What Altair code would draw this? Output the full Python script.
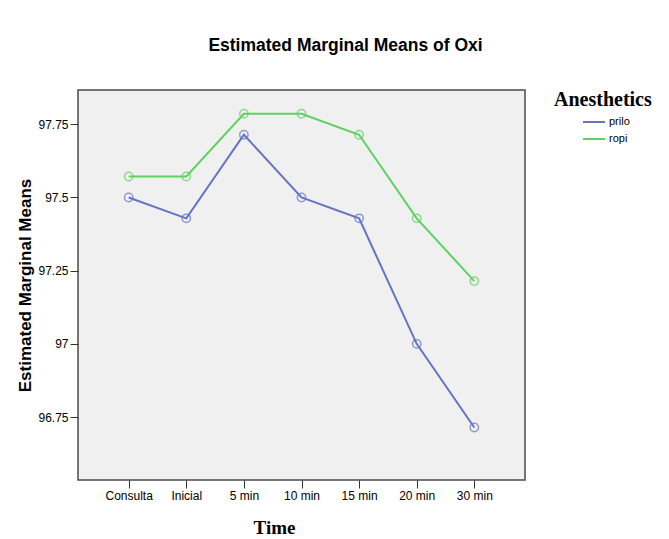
import altair as alt
import pandas as pd

times = ["Consulta", "Inicial", "5 min", "10 min", "15 min", "20 min", "30 min"]
prilo = [97.5, 97.4286, 97.7143, 97.5, 97.4286, 97.0, 96.7143]
ropi = [97.5714, 97.5714, 97.7857, 97.7857, 97.7143, 97.4286, 97.2143]
groups = ["prilo", "ropi"]
y_ticks = [96.75, 97.0, 97.25, 97.5, 97.75]
palette = ["#6474c2", "#5fd160"]

rows = []
for g, vals in zip(groups, [prilo, ropi]):
    for t, v in zip(times, vals):
        rows.append({"Time": t, "Mean": v, "Anesthetics": g})
df = pd.DataFrame(rows)

color = alt.Color(
    "Anesthetics:N",
    scale=alt.Scale(domain=groups, range=palette),
    legend=alt.Legend(
        title="Anesthetics",
        orient="none",
        legendX=476,
        legendY=0,
        symbolType="stroke",
        symbolSize=484,
        symbolStrokeWidth=2,
        symbolOffset=28,
        titleFont="Liberation Serif",
        titleFontSize=20,
        titleFontWeight="bold",
        titleColor="#000000",
        titlePadding=0,
        labelFont="Liberation Sans",
        labelFontSize=11,
        labelColor="#000000",
        labelOffset=3,
        rowPadding=-5,
    ),
)

x = alt.X(
    "Time:N",
    sort=times,
    scale=alt.Scale(type="point", padding=0.88),
    axis=alt.Axis(
        title="Time",
        titleFont="Liberation Serif",
        titleFontSize=19,
        titleFontWeight="bold",
        titleColor="#000000",
        titleX=196,
        titleY=53,
        titleBaseline="alphabetic",
        labelAngle=0,
        labelFont="Liberation Sans",
        labelFontSize=12,
        labelColor="#000000",
        labelPadding=2,
        tickSize=8,
        tickColor="#333333",
        domain=False,
        grid=False,
    ),
)

y = alt.Y(
    "Mean:Q",
    scale=alt.Scale(domain=[96.535, 97.867], nice=False, zero=False),
    axis=alt.Axis(
        title="Estimated Marginal Means",
        values=y_ticks,
        labelExpr="format(datum.value, '.4~f')",
        titleFont="Liberation Sans",
        titleFontSize=17,
        titleFontWeight="bold",
        titleColor="#000000",
        titleAngle=-90,
        titleX=-48,
        titleY=195,
        titleAlign="center",
        titleBaseline="alphabetic",
        labelFont="Liberation Sans",
        labelFontSize=12,
        labelColor="#000000",
        labelPadding=2,
        tickSize=8,
        tickColor="#333333",
        domain=False,
        grid=False,
    ),
)

base = alt.Chart(df)
lines = base.mark_line(strokeWidth=2).encode(x=x, y=y, color=color)
points = base.mark_point(filled=False, size=70, strokeWidth=1.5).encode(
    x=x, y=y, color=alt.Color("Anesthetics:N", scale=alt.Scale(domain=groups, range=palette), legend=None)
)

chart = (
    alt.layer(lines, points)
    .properties(
        width=447,
        height=390,
        autosize=alt.AutoSizeParams(type="none"),
        padding={"left": 70, "top": 82, "right": 136, "bottom": 58},
        background="#ffffff",
        title=alt.Title(
            "Estimated Marginal Means of Oxi",
            font="Liberation Sans",
            fontSize=17.5,
            fontWeight="bold",
            color="#000000",
            anchor="middle",
            dx=44,
            offset=22,
            baseline="alphabetic",
        ),
    )
    .configure_view(fill="#f0f0f0", stroke="#4a4a4a", strokeWidth=1.5)
)

chart.save("out.html", embed_options={"renderer": "svg", "actions": False})
